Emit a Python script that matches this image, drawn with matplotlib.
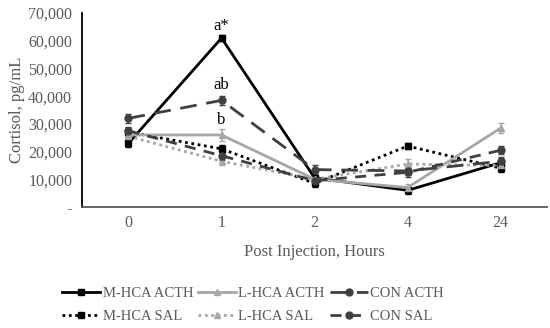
import matplotlib
matplotlib.use("Agg")
import matplotlib.pyplot as plt
from matplotlib.ticker import FuncFormatter

plt.rcParams["font.family"] = ["Liberation Serif", "DejaVu Serif"]

hours = ["0", "1", "2", "4", "24"]

m_hca_acth = [23000, 61000, 10500, 6000, 16000]
l_hca_acth = [26000, 26000, 10000, 7000, 28500]
con_acth = [32000, 38500, 13500, 13000, 16500]
m_hca_sal = [27000, 21000, 8500, 22000, 14000]
l_hca_sal = [25500, 16500, 10000, 15500, 15000]
con_sal = [27500, 18500, 9500, 12500, 20500]

m_hca_acth_err = [1500, 1200, 1200, 1200, 1300]
l_hca_acth_err = [1500, 2000, 1200, 1200, 1800]
con_acth_err = [1500, 1500, 1500, 1500, 1500]
m_hca_sal_err = [1500, 1500, 1200, 1200, 1300]
l_hca_sal_err = [1500, 1500, 1200, 2000, 1500]
con_sal_err = [1500, 1500, 1200, 1500, 1500]

letters = ["a*", "ab", "b"]
letter_y = [65500, 44000, 31500]

text_color = "#595959"

fig = plt.figure(figsize=(5.5, 3.28), dpi=100)
ax = fig.add_axes([0.149, 0.369, 0.846, 0.591])
x = list(range(len(hours)))

series = [
    ("M-HCA ACTH", m_hca_acth, m_hca_acth_err, "black", "-", "s", 2.0),
    ("M-HCA SAL", m_hca_sal, m_hca_sal_err, "black", (0, (1, 1.3)), "s", 2.0),
    ("L-HCA ACTH", l_hca_acth, l_hca_acth_err, "#a6a6a6", "-", "^", 2.0),
    ("L-HCA SAL", l_hca_sal, l_hca_sal_err, "#a6a6a6", (0, (1, 1.3)), "^", 2.0),
    ("CON ACTH", con_acth, con_acth_err, "#404040", (0, (6, 3.5)), "o", 2.0),
    ("CON SAL", con_sal, con_sal_err, "#404040", (0, (4, 3)), "o", 2.0),
]

handles = []
labels = []
for label, vals, err, color, ls, mk, lw in series:
    h = ax.errorbar(x, vals, yerr=err, color=color, linestyle=ls, marker=mk,
                    markersize=5, lw=lw, elinewidth=1.1, capsize=2.5,
                    ecolor=color)
    h[-1][0].set_linestyle("-")
    handles.append(h[0])
    labels.append(label)

for t, yv in zip(letters, letter_y):
    ax.text(1, yv, t, ha="center", va="center", fontsize=12, color="black")

ax.set_xlim(-0.5, 4.5)
ax.set_ylim(0, 70000)
ax.set_yticks(range(0, 70001, 10000))
ax.yaxis.set_major_formatter(FuncFormatter(lambda v, p: "-" if v == 0 else f"{int(v):,}"))
ax.set_xticks(x)
ax.set_xticklabels(hours)
ax.tick_params(length=0, labelsize=11.5, colors=text_color)
ax.tick_params(axis="x", pad=6)
ax.tick_params(axis="y", pad=7)
ax.spines["top"].set_visible(False)
ax.spines["right"].set_visible(False)
ax.spines["left"].set_color("black")
ax.spines["left"].set_linewidth(1.3)
ax.spines["bottom"].set_color("#595959")
ax.spines["bottom"].set_linewidth(1.3)

ax.set_xlabel("Post Injection, Hours", fontsize=12, color=text_color, labelpad=9)
ax.set_ylabel("Cortisol, pg/mL", fontsize=12, color=text_color, labelpad=2)

fig.legend(handles, labels, loc="lower center", bbox_to_anchor=(0.46, -0.025),
           ncol=3, frameon=False, fontsize=10.5, labelcolor=text_color,
           handlelength=2.6, handletextpad=0.15, columnspacing=0.35, labelspacing=0.7)

fig.savefig("out.png", dpi=100)
